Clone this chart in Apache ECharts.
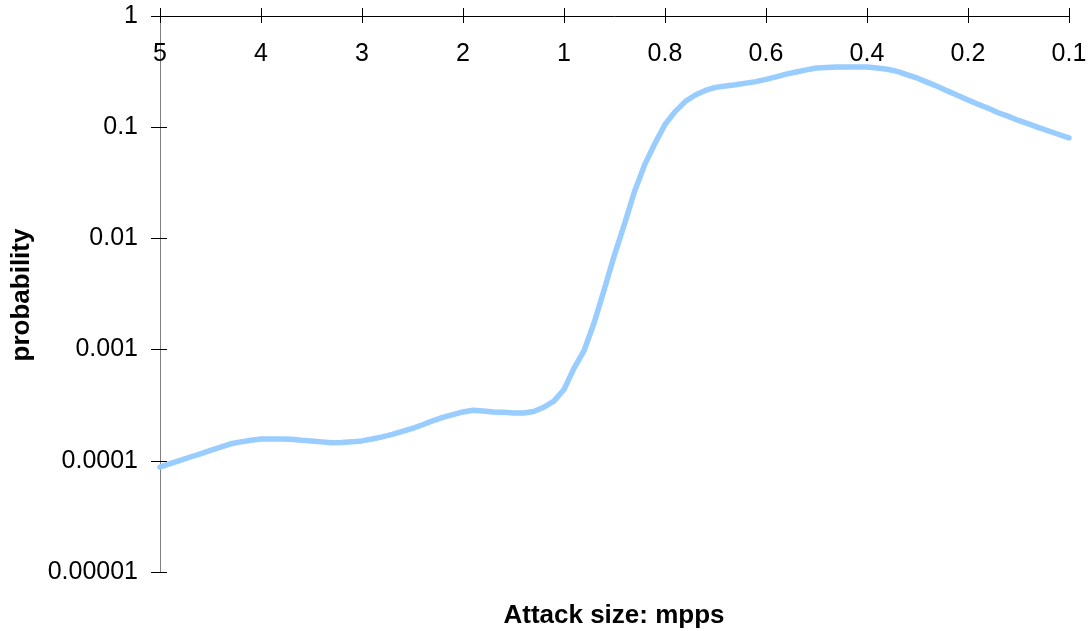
<!DOCTYPE html>
<html>
<head>
<meta charset="utf-8">
<title>Attack size vs probability</title>
<script src="https://cdn.jsdelivr.net/npm/echarts@6/dist/echarts.min.js"></script>
<style>
  html, body { margin: 0; padding: 0; background: #ffffff; }
  #chart { width: 1090px; height: 631px; }
</style>
</head>
<body>
<div id="chart"></div>
<script>
// Attack size in mpps (category axis, labelled every 10th step)
const attackSizes = [
  '5', '4.9', '4.8', '4.7', '4.6', '4.5', '4.4', '4.3', '4.2', '4.1',
  '4', '3.9', '3.8', '3.7', '3.6', '3.5', '3.4', '3.3', '3.2', '3.1',
  '3', '2.9', '2.8', '2.7', '2.6', '2.5', '2.4', '2.3', '2.2', '2.1',
  '2', '1.9', '1.8', '1.7', '1.6', '1.5', '1.4', '1.3', '1.2', '1.1',
  '1', '0.98', '0.96', '0.94', '0.92', '0.9', '0.88', '0.86', '0.84', '0.82',
  '0.8', '0.78', '0.76', '0.74', '0.72', '0.7', '0.68', '0.66', '0.64', '0.62',
  '0.6', '0.58', '0.56', '0.54', '0.52', '0.5', '0.48', '0.46', '0.44', '0.42',
  '0.4', '0.38', '0.36', '0.34', '0.32', '0.3', '0.28', '0.26', '0.24', '0.22',
  '0.2', '0.19', '0.18', '0.17', '0.16', '0.15', '0.14', '0.13', '0.12', '0.11',
  '0.1'
];

// Probability for each attack size
const probability = [
  8.79e-5, 9.42e-5, 1.008e-4, 1.082e-4, 1.156e-4, 1.24e-4, 1.328e-4, 1.422e-4, 1.48e-4, 1.53e-4,
  1.57e-4, 1.57e-4, 1.57e-4, 1.56e-4, 1.53e-4, 1.51e-4, 1.48e-4, 1.45e-4, 1.46e-4, 1.48e-4,
  1.51e-4, 1.57e-4, 1.64e-4, 1.73e-4, 1.84e-4, 1.96e-4, 2.11e-4, 2.29e-4, 2.46e-4, 2.60e-4,
  2.75e-4, 2.85e-4, 2.80e-4, 2.75e-4, 2.73e-4, 2.69e-4, 2.69e-4, 2.78e-4, 3.03e-4, 3.44e-4,
  4.38e-4, 6.82e-4, 9.86e-4, 1.76e-3, 3.51e-3, 7.12e-3, 1.36e-2, 2.67e-2, 4.63e-2, 7.13e-2,
  0.1057, 0.138, 0.170, 0.195, 0.214, 0.228, 0.235, 0.241, 0.249, 0.257,
  0.269, 0.284, 0.300, 0.314, 0.328, 0.341, 0.344, 0.347, 0.348, 0.348,
  0.348, 0.341, 0.332, 0.318, 0.296, 0.276, 0.253, 0.232, 0.211, 0.193,
  0.176, 0.161, 0.148, 0.135, 0.125, 0.115, 0.107, 0.0992, 0.0924, 0.0860,
  0.0803
];

// Y tick labels, one per decade from 1e-5 up to 1
const probabilityTicks = ['0.00001', '0.0001', '0.001', '0.01', '0.1', '1'];

const FONT = '"Liberation Sans", Arial, sans-serif';

const chart = echarts.init(document.getElementById('chart'), null, { renderer: 'canvas' });

chart.setOption({
  animation: false,
  backgroundColor: '#ffffff',
  grid: { left: 160, right: 21, top: 16, bottom: 59, containLabel: false },
  xAxis: [
    {
      // main axis line along the top, with the upward half of each tick
      type: 'category',
      position: 'top',
      data: attackSizes,
      boundaryGap: false,
      axisLine: { show: true, onZero: false, lineStyle: { color: '#000000', width: 1 } },
      axisTick: { show: true, interval: 9, length: 8, lineStyle: { color: '#000000', width: 1 } },
      axisLabel: { show: false },
      splitLine: { show: false }
    },
    {
      // downward half of each tick plus the labels, shifted up to the top edge
      type: 'category',
      position: 'bottom',
      offset: -556,
      data: attackSizes,
      boundaryGap: false,
      axisLine: { show: false, onZero: false },
      axisTick: { show: true, interval: 9, length: 7, lineStyle: { color: '#000000', width: 1 } },
      axisLabel: {
        show: true, interval: 9, margin: 26,
        color: '#000000', fontSize: 25, fontFamily: FONT
      },
      splitLine: { show: false }
    }
  ],
  yAxis: [
    {
      type: 'log',
      logBase: 10,
      min: 0.00001,
      max: 1,
      position: 'left',
      axisLine: { show: true, lineStyle: { color: '#808080', width: 1 } },
      axisTick: { show: true, length: 9, lineStyle: { color: '#000000', width: 1 } },
      axisLabel: {
        margin: 22, color: '#000000', fontSize: 25, fontFamily: FONT,
        formatter: function (v) {
          const k = Math.round(Math.log10(v)) + 5;
          return probabilityTicks[k] !== undefined ? probabilityTicks[k] : '';
        }
      },
      splitLine: { show: false }
    },
    {
      // right-pointing half of each y tick, placed on the left edge
      type: 'log',
      logBase: 10,
      min: 0.00001,
      max: 1,
      position: 'right',
      offset: -909,
      axisLine: { show: false },
      axisTick: { show: true, length: 7, lineStyle: { color: '#000000', width: 1 } },
      axisLabel: { show: false },
      splitLine: { show: false }
    }
  ],
  series: [
    {
      type: 'line',
      xAxisIndex: 0,
      yAxisIndex: 0,
      data: probability,
      showSymbol: false,
      symbol: 'none',
      smooth: false,
      lineStyle: { color: '#99CCFF', width: 5.5, join: 'round', cap: 'round' },
      itemStyle: { color: '#99CCFF' }
    }
  ],
  graphic: [
    {
      type: 'text',
      x: 22, y: 295,
      rotation: Math.PI / 2,
      style: {
        text: 'probability',
        fill: '#000000',
        font: 'bold 26px ' + FONT,
        align: 'center',
        verticalAlign: 'middle'
      }
    },
    {
      type: 'text',
      x: 614, y: 616,
      style: {
        text: 'Attack size: mpps',
        fill: '#000000',
        font: 'bold 26px ' + FONT,
        align: 'center',
        verticalAlign: 'middle'
      }
    }
  ]
});
</script>
</body>
</html>
